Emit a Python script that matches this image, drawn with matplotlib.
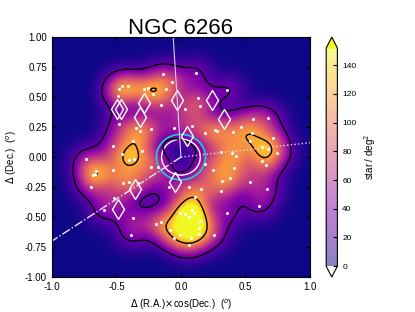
import numpy as np
import matplotlib
matplotlib.use("Agg")
import matplotlib.pyplot as plt

plt.rcParams['font.family'] = ['Liberation Sans', 'DejaVu Sans']

# star positions (deg)
star_x = [0.114, -0.142, -0.07, 0.36, -0.453, -0.414, -0.479, -0.287, -0.256, -0.22,
          -0.116, -0.484, -0.158, 0.129, 0.15, 0.034,
          -0.479, -0.349, -0.318, -0.37, -0.525, -0.453, -0.235, -0.057, 0.184, 0.279,
          0.31, 0.56, 0.673, 0.463, 0.40, 0.551, 0.535, 0.717, 0.629, 0.675, 0.748,
          0.396, 0.427,
          -0.737, -0.66, -0.678, -0.696, -0.523, -0.406, -0.362, -0.448, -0.406, -0.329,
          -0.6, -0.515, -0.375, -0.388, -0.665,
          -0.23, -0.18, -0.09, 0.065, 0.153, 0.106, 0.31, 0.028, 0.085, 0.06, 0.147,
          -0.19, -0.153, -0.085, -0.008, 0.075, 0.142, -0.057, 0.065, 0.254, 0.36,
          0.101, -0.008, 0.137,
          0.414, 0.629, 0.66, 0.38, 0.535, 0.665, 0.605,
          0.088, 0.261, 0.32, 0.25, 0.19, -0.3]
star_y = [0.70, 0.689, 0.622, 0.556, 0.594, 0.594, 0.567, 0.567, 0.575, 0.53,
          0.564, 0.508, 0.436, 0.492, 0.425, 0.403,
          0.272, 0.239, 0.217, 0.136, 0.092, 0.025, 0.236, 0.244, 0.197, 0.214,
          0.044, 0.317, 0.328, 0.25, 0.206, 0.197, 0.136, 0.156, 0.08, 0.069, 0.036,
          0.036, 0.011,
          -0.019, -0.114, -0.147, -0.25, -0.108, -0.022, -0.019, -0.214, -0.208, -0.214,
          -0.444, -0.342, -0.508, -0.647, -0.139,
          -0.086, -0.083, -0.253, -0.253, -0.267, -0.336, -0.281, -0.475, -0.444, -0.503, -0.531,
          -0.558, -0.544, -0.606, -0.647, -0.678, -0.642, -0.678, -0.731, -0.647, -0.469,
          -0.467, -0.464, -0.592,
          -0.092, -0.036, -0.067, -0.175, -0.206, -0.269, -0.408,
          0.261, 0.222, -0.203, -0.11, -0.06, 0.05]

# diamond markers
dia_x = [-0.028, 0.238, -0.287, -0.494, -0.463, -0.318, 0.334, 0.049, -0.047, -0.354, -0.489]
dia_y = [0.478, 0.472, 0.45, 0.405, 0.405, 0.333, 0.319, 0.178, -0.211, -0.267, -0.431]

# direction lines from centre
line_north = ([0.0, -0.06], [0.0, 1.0])
line_dashdot = ([0.0, -1.0], [0.0, -0.7])
line_dotted = ([0.0, 1.0], [0.0, 0.12])

sigma = 0.095
grid = np.linspace(-1, 1, 300)
gx, gy = np.meshgrid(grid, grid)
dens = np.zeros_like(gx)
for sx, sy in zip(star_x, star_y):
    dens += np.exp(-((gx - sx) ** 2 + (gy - sy) ** 2) / (2 * sigma ** 2))
dens /= 2 * np.pi * sigma ** 2
dens *= 1.6

fig = plt.figure(figsize=(4.15, 3.12), dpi=100)
ax = fig.add_axes([0.125, 0.112, 0.622, 0.769])
cax = fig.add_axes([0.786, 0.112, 0.027, 0.769])

cmap = plt.get_cmap('plasma').copy()
cmap.set_under('white')
im = ax.imshow(dens, origin='lower', extent=[-1, 1, -1, 1], cmap=cmap,
               vmin=0, vmax=152, aspect='auto', interpolation='bilinear')
ax.contour(gx, gy, dens, levels=[30, 120], colors='k', linewidths=1)

ax.plot(star_x, star_y, 'o', color='white', ms=2.2, mew=0)
ax.plot(dia_x, dia_y, 'd', mfc='none', mec='white', ms=10, mew=1)
ax.plot(*line_north, '-', color='#d9c9f2', lw=0.8)
ax.plot(*line_dashdot, '-.', color='#f0e0ff', lw=1)
ax.plot(*line_dotted, ':', color='#f0d0f0', lw=1)
ax.add_patch(plt.Circle((0.0, 0.0), 0.19, fill=False, ec='#20d0d8', lw=1.2))
ax.add_patch(plt.Circle((0.0, 0.0), 0.15, fill=False, ec='white', lw=1))

ax.set_xlim(-1, 1)
ax.set_ylim(-1, 1)
ax.set_xticks([-1.0, -0.5, 0.0, 0.5, 1.0])
ax.set_yticks([-1.0, -0.75, -0.5, -0.25, 0.0, 0.25, 0.5, 0.75, 1.0])
ax.xaxis.set_major_formatter(matplotlib.ticker.FormatStrFormatter('%.1f'))
ax.yaxis.set_major_formatter(matplotlib.ticker.FormatStrFormatter('%.2f'))
ax.tick_params(direction='in', top=True, right=True, labelsize=7, length=3)
ax.set_xlabel(r'$\Delta$ (R.A.)$\times$cos(Dec.)  ($^o$)', fontsize=7)
ax.set_ylabel(r'$\Delta$ (Dec.)  ($^o$)', fontsize=7)
ax.set_title('NGC 6266', fontsize=16, pad=2)

cb = fig.colorbar(im, cax=cax, extend='both', ticks=np.arange(0, 141, 20))
cb.solids.set_alpha(0.5)
cb.ax.tick_params(direction='in', labelsize=6, length=3)
cb.set_label(r'star / deg$^2$', fontsize=7, labelpad=4)

fig.savefig('out.png', dpi=100)
